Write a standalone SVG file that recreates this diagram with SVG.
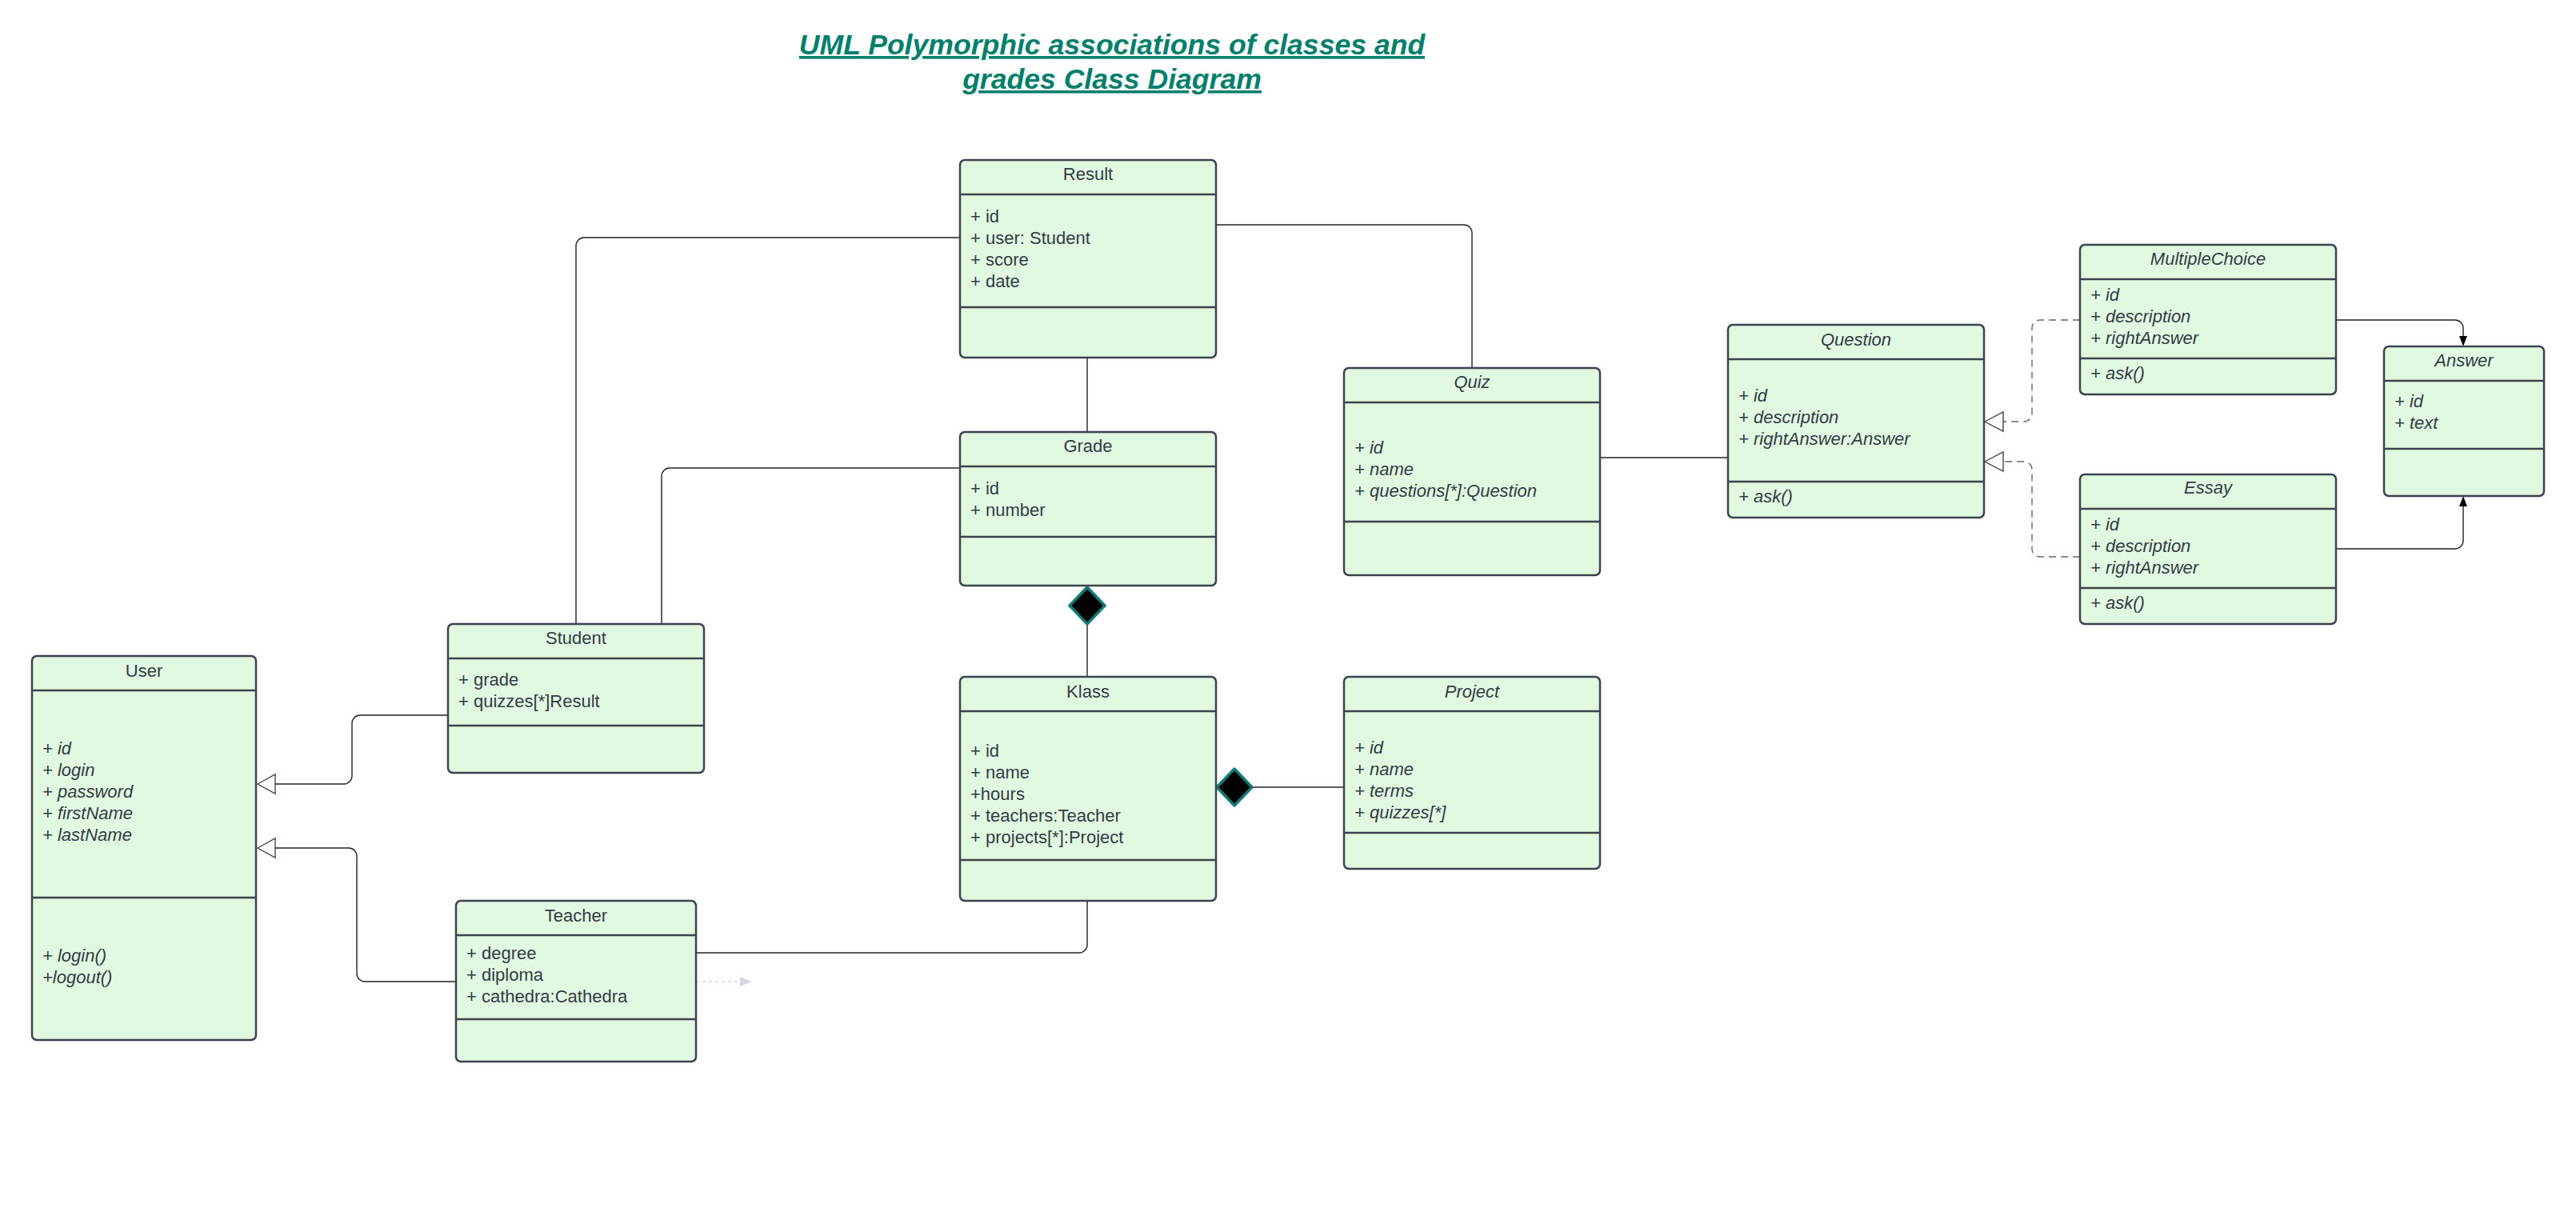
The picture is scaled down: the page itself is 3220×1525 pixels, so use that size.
<svg xmlns="http://www.w3.org/2000/svg" width="3220" height="1525" viewBox="0 0 3220 1525">
<style>
.box{fill:#e2f9e1;stroke:#3b434c;stroke-width:2.5}
.div{stroke:#3b434c;stroke-width:2.5}
.t{font-family:"Liberation Sans",Arial,sans-serif;font-size:22px;fill:#333c46}
.c{text-anchor:middle}
.i{font-style:italic}
.ln{fill:none;stroke:#222;stroke-width:1.4}
.dash{fill:none;stroke:#666;stroke-width:1.4;stroke-dasharray:9 6}
.gen{fill:#fff;stroke:#444;stroke-width:1.4}
.dia{fill:#000;stroke:#0f7c78;stroke-width:3.5;stroke-linejoin:round}
.title{font-family:"Liberation Sans",Arial,sans-serif;font-size:35.6px;font-weight:bold;font-style:italic;fill:#00806b;text-decoration:underline;text-anchor:middle}
</style>
<rect width="3220" height="1525" fill="#fff"/>
<g id="title">
<text class="title" x="1390" y="68">UML Polymorphic associations of classes and</text>
<text class="title" x="1390" y="111">grades Class Diagram</text>
</g>
<g id="connectors">
<path class="ln" d="M720 780 V307 A10 10 0 0 1 730 297 H1200"/>
<path class="ln" d="M827 780 V595 A10 10 0 0 1 837 585 H1200"/>
<path class="ln" d="M1359 447 V540"/>
<path class="ln" d="M1520 281 H1830 A10 10 0 0 1 1840 291 V460"/>
<path class="ln" d="M1359 781 V846"/>
<polygon class="dia" points="1359,734 1381,757 1359,780 1337,757"/>
<path class="ln" d="M1566 984 H1680"/>
<polygon class="dia" points="1521,984 1543,961 1565,984 1543,1007"/>
<path class="ln" d="M2000 572 H2160"/>
<path class="ln" d="M560 894 H450 A10 10 0 0 0 440 904 V970 A10 10 0 0 1 430 980 H344"/>
<polygon class="gen" points="322,980 344,968 344,992"/>
<path class="ln" d="M570 1227 H456 A10 10 0 0 1 446 1217 V1070 A10 10 0 0 0 436 1060 H344"/>
<polygon class="gen" points="322,1060 344,1048 344,1072"/>
<path class="ln" d="M870 1191 H1349 A10 10 0 0 0 1359 1181 V1126"/>
<path d="M870 1227 H925" fill="none" stroke="#d3d6dc" stroke-width="1.4" stroke-dasharray="4 4"/>
<polygon points="925,1221 940,1227 925,1233" fill="#d3d6dc"/>
<path class="ln" d="M2920 400 H3069 A10 10 0 0 1 3079 410 V421"/>
<polygon points="3074,420 3084,420 3079,433" fill="#000"/>
<path class="ln" d="M2920 686 H3069 A10 10 0 0 0 3079 676 V633"/>
<polygon points="3074,633 3084,633 3079,620" fill="#000"/>
<path class="dash" d="M2600 400 H2550 A10 10 0 0 0 2540 410 V517 A10 10 0 0 1 2530 527 H2504"/>
<polygon class="gen" points="2481,527 2504,515 2504,539"/>
<path class="dash" d="M2600 696 H2550 A10 10 0 0 1 2540 686 V587 A10 10 0 0 0 2530 577 H2504"/>
<polygon class="gen" points="2481,577 2504,565 2504,589"/>
</g>
<g id="Result">
<rect class="box" x="1200" y="200" width="320" height="247" rx="6"/>
<line class="div" x1="1200" y1="243" x2="1520" y2="243"/>
<line class="div" x1="1200" y1="384" x2="1520" y2="384"/>
<text class="t c" x="1360" y="225">Result</text>
<text class="t" x="1213" y="278">+ id</text>
<text class="t" x="1213" y="305">+ user: Student</text>
<text class="t" x="1213" y="332">+ score</text>
<text class="t" x="1213" y="359">+ date</text>
</g>
<g id="Grade">
<rect class="box" x="1200" y="540" width="320" height="192" rx="6"/>
<line class="div" x1="1200" y1="583" x2="1520" y2="583"/>
<line class="div" x1="1200" y1="671" x2="1520" y2="671"/>
<text class="t c" x="1360" y="565">Grade</text>
<text class="t" x="1213" y="618">+ id</text>
<text class="t" x="1213" y="645">+ number</text>
</g>
<g id="Klass">
<rect class="box" x="1200" y="846" width="320" height="280" rx="6"/>
<line class="div" x1="1200" y1="889" x2="1520" y2="889"/>
<line class="div" x1="1200" y1="1075" x2="1520" y2="1075"/>
<text class="t c" x="1360" y="872">Klass</text>
<text class="t" x="1213" y="946">+ id</text>
<text class="t" x="1213" y="973">+ name</text>
<text class="t" x="1213" y="1000">+hours</text>
<text class="t" x="1213" y="1027">+ teachers:Teacher</text>
<text class="t" x="1213" y="1054">+ projects[*]:Project</text>
</g>
<g id="User">
<rect class="box" x="40" y="820" width="280" height="480" rx="6"/>
<line class="div" x1="40" y1="863" x2="320" y2="863"/>
<line class="div" x1="40" y1="1122" x2="320" y2="1122"/>
<text class="t c" x="180" y="846">User</text>
<text class="t i" x="53" y="943">+ id</text>
<text class="t i" x="53" y="970">+ login</text>
<text class="t i" x="53" y="997">+ password</text>
<text class="t i" x="53" y="1024">+ firstName</text>
<text class="t i" x="53" y="1051">+ lastName</text>
<text class="t i" x="53" y="1202">+ login()</text>
<text class="t i" x="53" y="1229">+logout()</text>
</g>
<g id="Student">
<rect class="box" x="560" y="780" width="320" height="186" rx="6"/>
<line class="div" x1="560" y1="823" x2="880" y2="823"/>
<line class="div" x1="560" y1="907" x2="880" y2="907"/>
<text class="t c" x="720" y="805">Student</text>
<text class="t" x="573" y="857">+ grade</text>
<text class="t" x="573" y="884">+ quizzes[*]Result</text>
</g>
<g id="Teacher">
<rect class="box" x="570" y="1126" width="300" height="201" rx="6"/>
<line class="div" x1="570" y1="1169" x2="870" y2="1169"/>
<line class="div" x1="570" y1="1274" x2="870" y2="1274"/>
<text class="t c" x="720" y="1152">Teacher</text>
<text class="t" x="583" y="1199">+ degree</text>
<text class="t" x="583" y="1226">+ diploma</text>
<text class="t" x="583" y="1253">+ cathedra:Cathedra</text>
</g>
<g id="Quiz">
<rect class="box" x="1680" y="460" width="320" height="259" rx="6"/>
<line class="div" x1="1680" y1="503" x2="2000" y2="503"/>
<line class="div" x1="1680" y1="652" x2="2000" y2="652"/>
<text class="t c i" x="1840" y="485">Quiz</text>
<text class="t i" x="1693" y="567">+ id</text>
<text class="t i" x="1693" y="594">+ name</text>
<text class="t i" x="1693" y="621">+ questions[*]:Question</text>
</g>
<g id="Project">
<rect class="box" x="1680" y="846" width="320" height="240" rx="6"/>
<line class="div" x1="1680" y1="889" x2="2000" y2="889"/>
<line class="div" x1="1680" y1="1041" x2="2000" y2="1041"/>
<text class="t c i" x="1840" y="872">Project</text>
<text class="t i" x="1693" y="942">+ id</text>
<text class="t i" x="1693" y="969">+ name</text>
<text class="t i" x="1693" y="996">+ terms</text>
<text class="t i" x="1693" y="1023">+ quizzes[*]</text>
</g>
<g id="Question">
<rect class="box" x="2160" y="406" width="320" height="241" rx="6"/>
<line class="div" x1="2160" y1="449" x2="2480" y2="449"/>
<line class="div" x1="2160" y1="602" x2="2480" y2="602"/>
<text class="t c i" x="2320" y="432">Question</text>
<text class="t i" x="2173" y="502">+ id</text>
<text class="t i" x="2173" y="529">+ description</text>
<text class="t i" x="2173" y="556">+ rightAnswer:Answer</text>
<text class="t i" x="2173" y="628">+ ask()</text>
</g>
<g id="MultipleChoice">
<rect class="box" x="2600" y="306" width="320" height="187" rx="6"/>
<line class="div" x1="2600" y1="349" x2="2920" y2="349"/>
<line class="div" x1="2600" y1="448" x2="2920" y2="448"/>
<text class="t c i" x="2760" y="331">MultipleChoice</text>
<text class="t i" x="2613" y="376">+ id</text>
<text class="t i" x="2613" y="403">+ description</text>
<text class="t i" x="2613" y="430">+ rightAnswer</text>
<text class="t i" x="2613" y="474">+ ask()</text>
</g>
<g id="Essay">
<rect class="box" x="2600" y="593" width="320" height="187" rx="6"/>
<line class="div" x1="2600" y1="636" x2="2920" y2="636"/>
<line class="div" x1="2600" y1="735" x2="2920" y2="735"/>
<text class="t c i" x="2760" y="617">Essay</text>
<text class="t i" x="2613" y="663">+ id</text>
<text class="t i" x="2613" y="690">+ description</text>
<text class="t i" x="2613" y="717">+ rightAnswer</text>
<text class="t i" x="2613" y="761">+ ask()</text>
</g>
<g id="Answer">
<rect class="box" x="2980" y="433" width="200" height="187" rx="6"/>
<line class="div" x1="2980" y1="476" x2="3180" y2="476"/>
<line class="div" x1="2980" y1="561" x2="3180" y2="561"/>
<text class="t c i" x="3080" y="458">Answer</text>
<text class="t i" x="2993" y="509">+ id</text>
<text class="t i" x="2993" y="536">+ text</text>
</g>
</svg>
